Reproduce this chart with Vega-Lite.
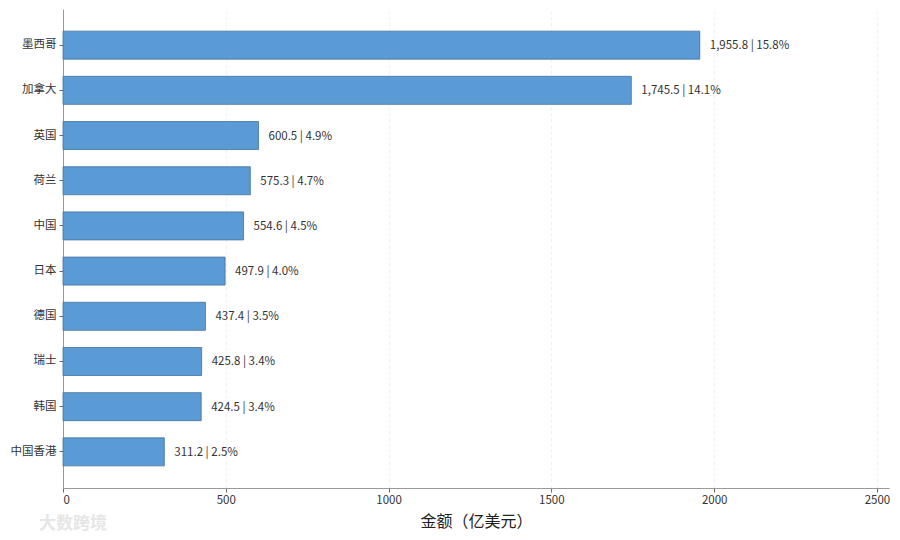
{
  "$schema": "https://vega.github.io/schema/vega-lite/v6.json",
  "width": 826,
  "height": 479,
  "autosize": {"type": "none"},
  "padding": {"left": 63, "top": 9, "right": 11, "bottom": 52},
  "background": "white",
  "config": {
    "font": "Noto Sans CJK SC",
    "view": {"stroke": null}
  },
  "title": {
    "text": "大数跨境",
    "orient": "bottom",
    "anchor": "start",
    "frame": "group",
    "dx": -24,
    "dy": -18,
    "fontSize": 17,
    "fontWeight": "bold",
    "color": "#e6e6e6"
  },
  "data": {
    "values": [
      {"country": "墨西哥", "value": 1955.8, "pct": 15.8},
      {"country": "加拿大", "value": 1745.5, "pct": 14.1},
      {"country": "英国", "value": 600.5, "pct": 4.9},
      {"country": "荷兰", "value": 575.3, "pct": 4.7},
      {"country": "中国", "value": 554.6, "pct": 4.5},
      {"country": "日本", "value": 497.9, "pct": 4.0},
      {"country": "德国", "value": 437.4, "pct": 3.5},
      {"country": "瑞士", "value": 425.8, "pct": 3.4},
      {"country": "韩国", "value": 424.5, "pct": 3.4},
      {"country": "中国香港", "value": 311.2, "pct": 2.5}
    ]
  },
  "transform": [
    {"calculate": "format(datum.value, ',.1f') + ' | ' + format(datum.pct, '.1f') + '%'", "as": "label"}
  ],
  "encoding": {
    "y": {
      "field": "country",
      "type": "nominal",
      "sort": null,
      "title": null,
      "scale": {"paddingInner": 0.38, "paddingOuter": 0.49},
      "axis": {
        "domainColor": "#999999",
        "tickColor": "#666666",
        "tickSize": 4,
        "labelFontSize": 11.5,
        "labelColor": "#333333",
        "labelPadding": 3
      }
    },
    "x": {
      "field": "value",
      "type": "quantitative",
      "title": "金额（亿美元）",
      "scale": {"domain": [0, 2537], "nice": false},
      "axis": {
        "values": [0, 500, 1000, 1500, 2000, 2500],
        "format": "d",
        "domainColor": "#999999",
        "tickColor": "#666666",
        "tickSize": 4,
        "labelFontSize": 11.5,
        "labelColor": "#333333",
        "grid": true,
        "gridColor": "#ececec",
        "gridDash": [3, 3],
        "gridWidth": 0.8,
        "titleFontSize": 16,
        "titleFontWeight": "normal",
        "titleColor": "#222222",
        "titlePadding": 8
      }
    }
  },
  "layer": [
    {
      "mark": {"type": "bar", "color": "#5b9bd5", "stroke": "#41719c", "strokeWidth": 0.8}
    },
    {
      "mark": {"type": "text", "align": "left", "dx": 10, "dy": 1, "fontSize": 11.5, "color": "#333333"},
      "encoding": {"text": {"field": "label"}}
    }
  ]
}
